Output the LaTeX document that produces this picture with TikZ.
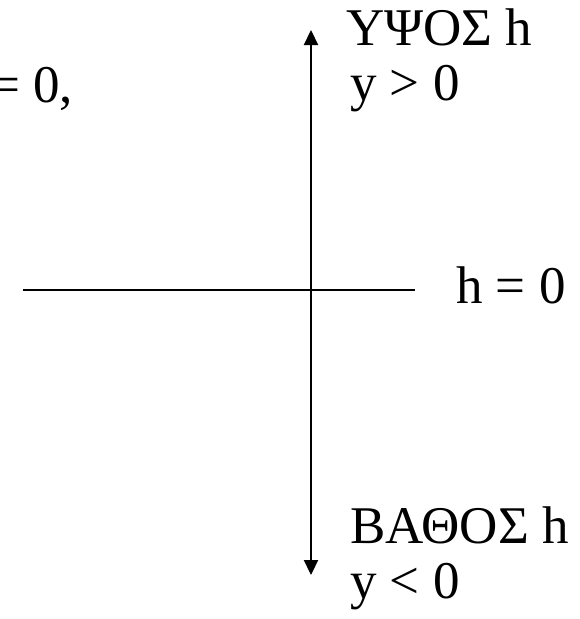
\documentclass[tikz,border=0pt]{standalone}
\usepackage{fontspec}
\setmainfont{Liberation Serif}
\usetikzlibrary{arrows.meta,positioning,calc}

\begin{document}
\begin{tikzpicture}[
    x=1pt, y=-1pt,
    label/.style = {anchor=base west, inner sep=0pt, font=\fontsize{53}{60}\selectfont},
    axis/.style = {draw, line width=2.2pt},
    arrow/.style = {axis, {Triangle[length=15pt,width=14pt]}-{Triangle[length=15pt,width=14pt]}}
]
    \useasboundingbox (0,0) rectangle (580,619);

    % Nodes
    \coordinate (top) at (311,30);
    \coordinate (bottom) at (311,575);
    \coordinate (west) at (23,290);
    \coordinate (east) at (415,290);

    \node [label] (cond) at (-10,102) {= 0,};
    \node [label] (height) at (346,45) {ΥΨΟΣ h};
    \node [label] (pos) at (350,100) {y > 0};
    \node [label] (zero) at (456,303) {h = 0};
    \node [label] (depth) at (350,543) {ΒΑΘΟΣ h};
    \node [label] (neg) at (350,598) {y < 0};

    % Edges
    \path [arrow] (bottom) -- (top);
    \path [axis] (west) -- (east);

\end{tikzpicture}
\end{document}
